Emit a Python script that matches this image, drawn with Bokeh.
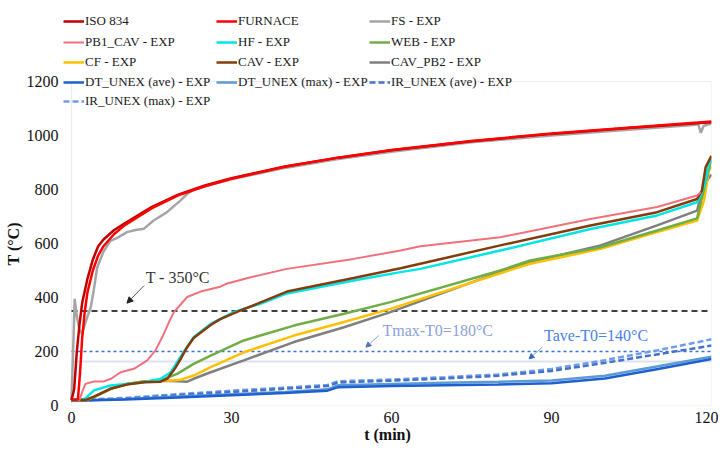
from bokeh.plotting import figure
from bokeh.models import Legend, LegendItem, Label, Arrow, NormalHead, BoxAnnotation, Title
from bokeh.embed import file_html
from bokeh.resources import INLINE

# ---------------- data ----------------
x_ticks = [0, 30, 60, 90, 120]
y_ticks = [0, 200, 400, 600, 800, 1000, 1200]
t_span = [0, 120]

t_iso = [0, 0.5, 1, 1.5, 2, 3, 4, 5, 6, 8, 10, 15, 20, 25, 30, 40, 50, 60, 75, 90, 105, 120]
T_iso = [20, 60, 200, 300, 380, 470, 540, 590, 615, 650, 675, 735, 781, 815, 842, 885, 918, 945, 979, 1006, 1029, 1049]

t_fur = [0, 1.2, 1.6, 2, 2.5, 3, 4, 5, 6, 8, 10, 15, 20, 25, 30, 40, 50, 60, 75, 90, 105, 120]
T_fur = [20, 22, 120, 250, 350, 420, 500, 555, 590, 635, 668, 730, 778, 812, 840, 884, 918, 946, 980, 1007, 1030, 1052]

t_fs = [0, 0.3, 0.6, 1, 1.5, 2, 2.5, 3, 3.6, 4.2, 4.8, 6, 7.3, 8.5, 10.4, 12, 13.6, 15.4, 17.9, 20.4, 21.7, 23,
        25, 30, 40, 50, 60, 75, 90, 105, 116, 117.5, 118, 118.5, 120]
T_fs = [20, 200, 395, 330, 280, 265, 300, 330, 363, 430, 510, 570, 610, 620, 642, 650, 655, 685, 716, 759, 784, 800,
        812, 838, 880, 913, 940, 975, 1000, 1022, 1038, 1042, 1010, 1035, 1045]

t_pb1 = [0, 1.5, 2, 2.6, 4.2, 6, 7.5, 9.2, 11.7, 14.2, 15.75, 17.3, 18.3, 19.2, 20.5, 21.7, 24.2, 27.9, 29.2, 33.6,
         40.4, 52.9, 61.7, 65.4, 80.4, 97.3, 109.8, 117.3, 118]
T_pb1 = [20, 20, 50, 80, 89, 89, 100, 123, 136, 167, 204, 265, 310, 346, 375, 402, 422, 440, 452, 475,
         506, 543, 574, 590, 623, 691, 735, 778, 790]

t_hf = [0, 1.5, 2.6, 4.2, 7.3, 10.4, 13.6, 16.7, 18.6, 20.4, 22.9, 26.1, 30.4, 35.4, 40.4, 52.9, 61.7, 65.4, 80.4,
        97.3, 109.8, 117.3, 118.6, 119.5, 120]
T_hf = [20, 20, 26, 56, 74, 80, 86, 99, 123, 179, 253, 302, 346, 377, 415, 463, 494, 506, 574,
        654, 704, 753, 808, 895, 905]

t_web = [0, 1.5, 2.6, 4.2, 7.3, 10.4, 13.6, 16.7, 19.8, 22.9, 26.1, 32.3, 41.7, 51.1, 59.8, 80.4, 86, 99,
         109.8, 117.3, 118.7, 120]
T_web = [20, 20, 20, 31, 62, 80, 89, 93, 117, 154, 185, 241, 296, 340, 383, 500, 537, 585,
         648, 693, 810, 915]

t_cf = [0, 1.5, 2.6, 4.2, 7.3, 10.4, 13.6, 16.7, 19, 20.4, 22.9, 26.1, 32.3, 41.7, 51.1, 59.8, 80.4, 86, 99.2,
        109.8, 117.3, 118.6, 119.5, 120]
T_cf = [20, 20, 20, 31, 62, 80, 89, 93, 93, 95, 111, 142, 197, 259, 309, 358, 490, 525, 580,
        642, 685, 759, 870, 885]

t_cav = [0, 1.5, 2.6, 4.2, 7.3, 10.4, 13.6, 16.7, 18, 19.5, 20.4, 21.5, 22.9, 26.1, 27.9, 31.7, 35, 40.4, 52.9,
         61.7, 65.4, 80.4, 97.3, 109.8, 117.3, 118.2, 118.9, 120]
T_cav = [20, 20, 20, 33, 62, 78, 86, 88, 100, 140, 170, 210, 250, 298, 320, 352, 378, 422, 472,
         508, 525, 593, 667, 716, 765, 796, 883, 925]

t_pb2 = [0, 1.5, 2.6, 4.2, 7.3, 10.4, 13.6, 16.7, 20, 21.7, 22.9, 26.1, 32.3, 41.7, 51.1, 59.8, 80.4, 86, 99.2,
         109.8, 117.3, 118.6, 120]
T_pb2 = [20, 20, 20, 31, 62, 80, 89, 92, 90, 88, 99, 123, 167, 235, 290, 346, 495, 531, 593,
         667, 722, 821, 855]

t_unex = [0, 10, 20, 30, 40, 48, 50, 60, 70, 80, 90, 100, 110, 120]
T_dt_ave = [18, 22, 30, 38, 46, 55, 68, 72, 75, 78, 82, 100, 135, 172]
T_dt_max = [18, 24, 33, 42, 50, 60, 75, 80, 84, 88, 93, 110, 145, 181]
T_ir_ave = [18, 25, 38, 50, 62, 72, 85, 92, 100, 110, 128, 158, 190, 222]
T_ir_max = [20, 28, 42, 55, 66, 76, 90, 96, 105, 115, 135, 168, 205, 245]

T_limit_350 = 350
T_limit_max = 200
T_limit_ave = 163

SERIF = "Liberation Serif"

# frame is extended to the top/left so the overlapping legend is not clipped;
# the visible plot box (0..120, 0..1200) is drawn as a BoxAnnotation
p = figure(width=718, height=445, x_range=(-1.5, 120), y_range=(0, 1500),
           output_backend="svg", toolbar_location=None,
           min_border_left=63, min_border_right=7, min_border_top=0, min_border_bottom=40)

p.xgrid.grid_line_color = None
p.ygrid.grid_line_color = None
p.outline_line_color = None
p.background_fill_color = "white"

for ax in (p.xaxis[0], p.yaxis[0]):
    ax.major_tick_line_color = None
    ax.minor_tick_line_color = None
    ax.major_tick_out = 0
    ax.major_tick_in = 0
    ax.axis_line_color = None
    ax.major_label_text_font = SERIF
    ax.major_label_text_font_size = "16px"
    ax.major_label_text_color = "#111111"
    ax.axis_label_text_font = SERIF
    ax.axis_label_text_font_size = "16px"
    ax.axis_label_text_font_style = "bold"
    ax.axis_label_text_color = "#111111"

p.xaxis.ticker = x_ticks
p.yaxis.ticker = y_ticks
p.xaxis.bounds = (x_ticks[0], x_ticks[-1])
p.yaxis.bounds = (y_ticks[0], y_ticks[-1])
p.xaxis.axis_label = "t (min)"
p.xaxis.major_label_standoff = 6
p.xaxis.axis_label_standoff = 0
p.yaxis.major_label_standoff = 5

# y-axis title, centred on the 0..1200 box rather than on the extended frame
p.add_layout(Title(text="T (°C)", align="left", offset=140, text_font=SERIF, text_font_size="16px",
                   text_font_style="bold", text_color="#111111", standoff=4), "left")

p.add_layout(BoxAnnotation(left=x_ticks[0], right=x_ticks[-1], bottom=y_ticks[0], top=y_ticks[-1],
                           fill_alpha=0, line_color="#BFBFBF", line_width=1.2, level="underlay"))

# reference lines
p.line(t_span, [T_limit_ave] * 2, line_color="#DDE3EE", line_width=2)
p.line(t_span, [T_limit_max] * 2, line_color="#3A6FE0", line_width=1.5, line_dash="3 3")
p.line(t_span, [T_limit_350] * 2, line_color="#404040", line_width=2, line_dash="6 4")

W = 2.5
r_ir_max = p.line(t_unex, T_ir_max, line_color="#6F9CF0", line_width=W, line_dash="6 3")
r_ir_ave = p.line(t_unex, T_ir_ave, line_color="#4472C4", line_width=W, line_dash="6 3")
r_dt_max = p.line(t_unex, T_dt_max, line_color="#5B9BD5", line_width=W)
r_dt_ave = p.line(t_unex, T_dt_ave, line_color="#1F5FD0", line_width=W)
r_pb2 = p.line(t_pb2, T_pb2, line_color="#7F7F7F", line_width=W)
r_cf = p.line(t_cf, T_cf, line_color="#FFC000", line_width=W)
r_web = p.line(t_web, T_web, line_color="#70AD47", line_width=W)
r_hf = p.line(t_hf, T_hf, line_color="#00E5E5", line_width=W)
r_cav = p.line(t_cav, T_cav, line_color="#843C0C", line_width=W)
r_pb1 = p.line(t_pb1, T_pb1, line_color="#F0707C", line_width=2)
r_fs = p.line(t_fs, T_fs, line_color="#A5A5A5", line_width=W)
r_iso = p.line(t_iso, T_iso, line_color="#C00000", line_width=W)
r_fur = p.line(t_fur, T_fur, line_color="#FF0000", line_width=W)

legend_rows = [
    [("ISO 834", r_iso), ("FURNACE", r_fur), ("FS - EXP", r_fs)],
    [("PB1_CAV - EXP", r_pb1), ("HF - EXP", r_hf), ("WEB - EXP", r_web)],
    [("CF - EXP", r_cf), ("CAV - EXP", r_cav), ("CAV_PB2 - EXP", r_pb2)],
    [("DT_UNEX (ave) - EXP", r_dt_ave), ("DT_UNEX (max) - EXP", r_dt_max), ("IR_UNEX (ave) - EXP", r_ir_ave)],
    [("IR_UNEX (max) - EXP", r_ir_max)],
]
row_offsets = [376, 355, 335, 315, 296]  # px from frame bottom to each legend row's bottom
for row, off in zip(legend_rows, row_offsets):
    lg = Legend(items=[LegendItem(label=lab, renderers=[r]) for lab, r in row],
                location=(0, off), orientation="horizontal",
                background_fill_alpha=0, border_line_alpha=0, padding=0, margin=0,
                spacing=0, glyph_width=21, glyph_height=16, label_height=16, label_width=131,
                label_standoff=1, label_text_font=SERIF, label_text_font_size="13px",
                label_text_color="#1A1A1A", label_text_baseline="middle")
    p.add_layout(lg)

# annotations
p.add_layout(Label(x=13.9, y=474, text="T - 350°C", text_font=SERIF, text_font_size="16px",
                   text_color="#333333", text_baseline="middle"))
p.add_layout(Arrow(x_start=13.6, y_start=444, x_end=10.4, y_end=379, line_color="#555555", line_width=1,
                   end=NormalHead(size=6, fill_color="#222222", line_color="#222222")))

p.add_layout(Label(x=58.3, y=278, text="Tmax-T0=180°C", text_font=SERIF, text_font_size="16px",
                   text_color="#8C9FD6", text_baseline="middle"))
p.add_layout(Arrow(x_start=57.6, y_start=259, x_end=55.2, y_end=216, line_color="#8C9FD6", line_width=1,
                   end=NormalHead(size=5, fill_color="#5470C0", line_color="#5470C0")))

p.add_layout(Label(x=88.6, y=259, text="Tave-T0=140°C", text_font=SERIF, text_font_size="16px",
                   text_color="#4A80E8", text_baseline="middle"))
p.add_layout(Arrow(x_start=88.3, y_start=216, x_end=85.8, y_end=173, line_color="#8CA8E0", line_width=1,
                   end=NormalHead(size=5, fill_color="#3060D0", line_color="#3060D0")))

open("out.html", "w").write(file_html(p, INLINE))
